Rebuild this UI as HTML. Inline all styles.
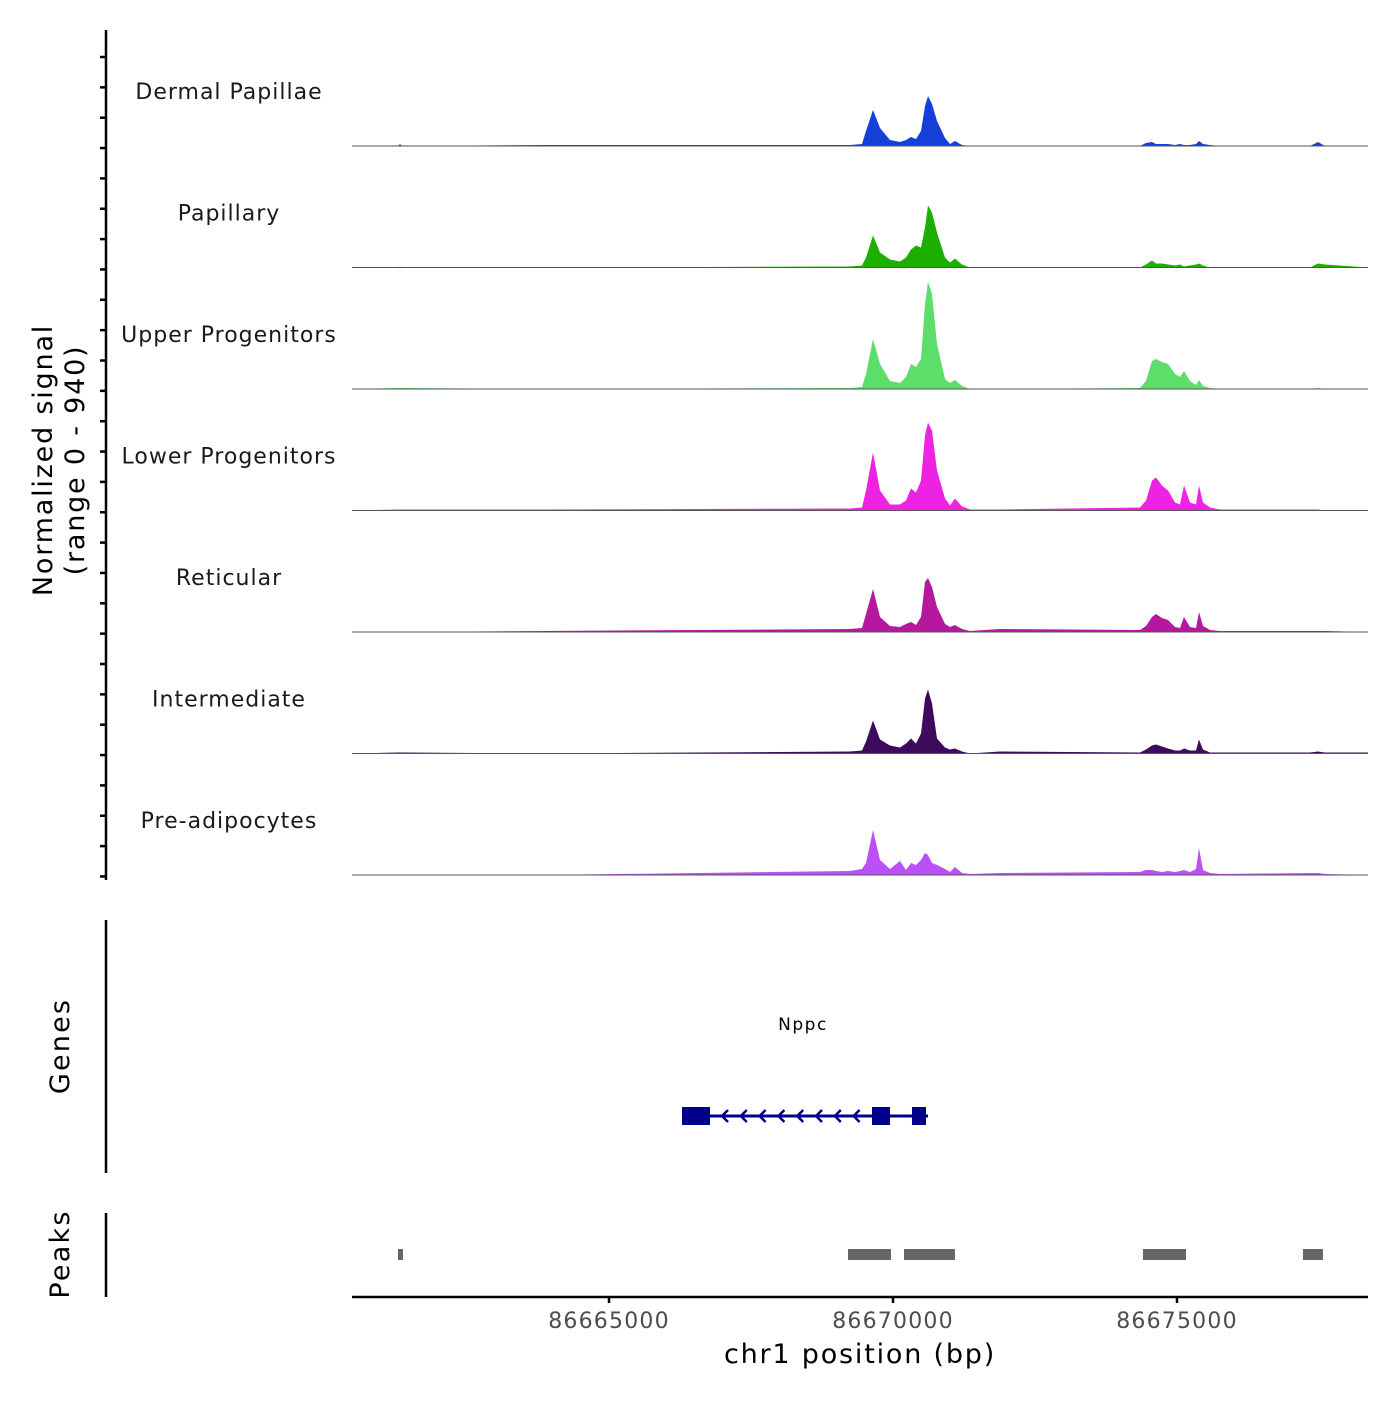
<!DOCTYPE html>
<html><head><meta charset="utf-8"><style>
body{margin:0;background:#fff}
svg{font-family:"DejaVu Sans","Liberation Sans",sans-serif}
</style></head><body>
<svg id="chart" width="1400" height="1400" viewBox="0 0 1400 1400" xmlns="http://www.w3.org/2000/svg">
<g id="tracks"></g>
<g id="genes"></g>
<g id="peaks"></g>
<g id="axes"></g>
</svg>
<script>
const positions=[86660475,86661285,86661320,86661355,86663873,86669243,86669454,86669524,86669648,86669771,86669947,86670123,86670229,86670317,86670405,86670493,86670563,86670616,86670686,86670775,86670915,86671003,86671091,86671215,86671356,86671884,86674349,86674454,86674560,86674630,86674736,86674841,86674965,86675053,86675123,86675229,86675334,86675387,86675458,86675581,86675757,86677342,86677482,86677606,86678363];
const trackNames=["Dermal Papillae","Papillary","Upper Progenitors","Lower Progenitors","Reticular","Intermediate","Pre-adipocytes"];
const trackColors=["#1440D8","#1DAF00","#5DDD6A","#EE22E3","#B5179E","#3D0A5E","#BC4FF7"];
const sigDermal=[0,0,2,0,1,1,2,15,36,18,6,4,6,9,7,15,40,50,42,25,8,2,5,1,0,0,0,3,4,2,2,2,1,2,1,1,2,5,2,1,0,0,4,0,0];
const sigPapillary=[0,0,1,0,0,1,2,10,32,15,8,6,10,18,22,20,40,62,55,35,10,5,9,3,0,0,0,3,7,4,4,3,2,3,1,2,3,4,2,0,0,0,4,3,0];
const sigUpper=[0,1,1,1,0,1,2,15,50,25,8,6,12,25,22,30,85,107,95,45,10,6,9,3,0,0,1,8,28,30,27,25,15,12,18,8,4,9,3,1,0,0,1,0,0];
const sigLower=[0,1,1,1,1,2,3,20,58,20,6,6,10,22,18,30,75,88,80,40,12,5,12,4,1,1,3,10,30,33,25,20,8,6,25,8,6,25,8,3,1,1,1,0,0];
const sigReticular=[0,0,0,0,1,3,4,18,43,15,6,5,8,10,7,15,50,54,45,25,8,5,7,3,1,3,2,6,15,18,14,12,5,4,15,5,4,20,6,2,1,1,1,1,0];
const sigIntermediate=[0,1,1,1,0,2,3,12,33,14,8,6,10,15,10,20,55,64,50,15,6,4,5,2,0,2,1,4,8,9,7,5,3,3,5,3,3,14,4,1,1,1,2,1,1];
const sigPreadipo=[0,0,0,0,0,4,6,12,45,15,6,14,5,12,10,15,22,20,12,10,6,3,8,2,1,2,3,5,5,4,3,4,3,4,5,3,6,27,5,2,1,2,2,1,0];
const signals=[sigDermal,sigPapillary,sigUpper,sigLower,sigReticular,sigIntermediate,sigPreadipo];
const xTicks=[86665000,86670000,86675000];
const geneStart=86666285, geneEnd=86670616;
const geneExons=[[86666285,86666778],[86669630,86669947],[86670334,86670581]];
const peakStarts=[86661285,86669208,86670194,86674401,86677218];
const peakEnds=[86661373,86669965,86671091,86675158,86677570];

const NS="http://www.w3.org/2000/svg";
const X0=86660475,X1=86678363,PX0=352,PX1=1368;
const x=v=>PX0+(v-X0)/(X1-X0)*(PX1-PX0);
const TRACK_H=121.5, FIRST_BASE=146, SIG_MAX=121.5;
const y=(i,v)=>FIRST_BASE+i*TRACK_H - v/SIG_MAX*TRACK_H;
function mk(tag,attrs,parent){const e=document.createElementNS(NS,tag);for(const k in attrs)e.setAttribute(k,attrs[k]);parent.appendChild(e);return e;}
const gT=document.getElementById('tracks');
signals.forEach((s,i)=>{
  const base=y(i,0);
  let d=`M${x(positions[0])},${base}`;
  s.forEach((v,j)=>{d+=`L${x(positions[j]).toFixed(1)},${y(i,v).toFixed(1)}`;});
  d+=`L${x(positions[positions.length-1])},${base}Z`;
  const p=mk('path',{d:d,fill:trackColors[i]},gT);
  
  
  const l=mk('line',{x1:PX0,x2:PX1,y1:base,y2:base,stroke:'#555','stroke-width':1},gT);
  
  
  const t=mk('text',{x:229,y:base-47,'text-anchor':'middle','font-size':22,'letter-spacing':1,fill:'#1a1a1a'},gT);
  t.textContent=trackNames[i];
  
  
});
// genes
const gG=document.getElementById('genes');
const gl=mk('line',{x1:x(geneStart),x2:x(geneEnd),y1:1116,y2:1116,stroke:'#00008B','stroke-width':3},gG);


geneExons.forEach(e=>{
  const r=mk('rect',{x:x(e[0]),y:1107,width:x(e[1])-x(e[0]),height:18,fill:'#00008B'},gG);
  
  
});
for(let ax=722;ax<=870;ax+=18.8){
  const a=mk('path',{d:`M${ax+6},${1110}L${ax},${1116}L${ax+6},${1122}`,stroke:'#00008B','stroke-width':2.5,fill:'none'},gG);
  
  
}
const gn=mk('text',{x:803,y:1030,'text-anchor':'middle','font-size':17,'letter-spacing':1.5,fill:'#000'},gG);
gn.textContent='Nppc';


// peaks
const gP=document.getElementById('peaks');
peakStarts.forEach((s,i)=>{
  const r=mk('rect',{x:x(s),y:1249,width:Math.max(4,x(peakEnds[i])-x(s)),height:11,fill:'#666'},gP);
  
  
});
// axes
const gA=document.getElementById('axes');
let e;
e=mk('line',{x1:106,x2:106,y1:30,y2:880,stroke:'#000','stroke-width':2.5},gA);


for(let ty=57;ty<=878;ty+=30.35){
  e=mk('line',{x1:100,x2:106,y1:ty,y2:ty,stroke:'#000','stroke-width':2.5},gA);
  
  
}
e=mk('text',{transform:'translate(52,460) rotate(-90)','text-anchor':'middle','font-size':27,'letter-spacing':1.8,fill:'#000'},gA);
e.innerHTML='<tspan x="0" dy="0">Normalized signal</tspan><tspan x="0" dy="32">(range 0 - 940)</tspan>';


e=mk('line',{x1:106,x2:106,y1:920,y2:1173,stroke:'#000','stroke-width':2.5},gA);


e=mk('text',{transform:'translate(69,1046) rotate(-90)','text-anchor':'middle','font-size':27,'letter-spacing':2.2,fill:'#000'},gA);
e.textContent='Genes';


e=mk('line',{x1:106,x2:106,y1:1213,y2:1297,stroke:'#000','stroke-width':2.5},gA);


e=mk('text',{transform:'translate(69,1254) rotate(-90)','text-anchor':'middle','font-size':27,'letter-spacing':2.2,fill:'#000'},gA);
e.textContent='Peaks';


e=mk('line',{x1:PX0,x2:PX1,y1:1297,y2:1297,stroke:'#000','stroke-width':2.5},gA);


xTicks.forEach(t=>{
  e=mk('line',{x1:x(t),x2:x(t),y1:1297,y2:1303,stroke:'#000','stroke-width':2.5},gA);
  
  
  e=mk('text',{x:x(t),y:1328,'text-anchor':'middle','font-size':22,'letter-spacing':1.2,fill:'#4d4d4d'},gA);
  e.textContent=t;
  
  
});
e=mk('text',{x:860,y:1363,'text-anchor':'middle','font-size':27,'letter-spacing':1.8,fill:'#000'},gA);
e.textContent='chr1 position (bp)';


</script>
</body></html>
